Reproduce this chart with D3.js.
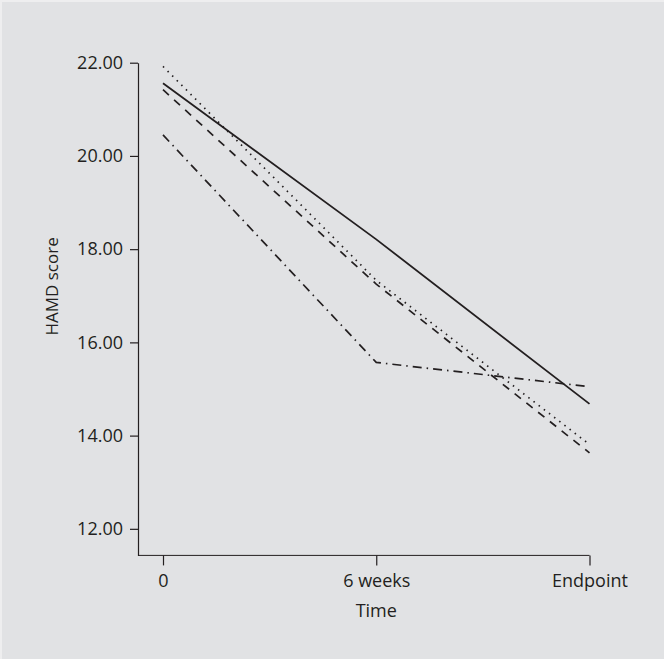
<!DOCTYPE html>
<html>
<head>
<meta charset="utf-8">
<script src="https://cdn.jsdelivr.net/npm/d3@7"></script>
<style>
  html, body { margin: 0; padding: 0; background: #e1e2e4; }
  svg { display: block; }
  text { font-family: "Open Sans", "Noto Sans", sans-serif; fill: #231f20; }
</style>
</head>
<body>
<div id="chart"></div>
<script>
// time points on the x axis
const timepoints = ["0", "6 weeks", "Endpoint"];
const yTicks = [12, 14, 16, 18, 20, 22];

// HAMD score per group
const solidSeries = [21.56, 18.21, 14.68];
const dashedSeries = [21.42, 17.25, 13.63];
const dottedSeries = [21.92, 17.33, 13.81];
const dashDotSeries = [20.45, 15.57, 15.05];

const series = [
  { name: "solid", values: solidSeries, dash: null, width: 1.8 },
  { name: "dashed", values: dashedSeries, dash: "8,7", width: 1.7 },
  { name: "dotted", values: dottedSeries, dash: "1.5,5", width: 1.7 },
  { name: "dashdot", values: dashDotSeries, dash: "9,5,1.5,5", width: 1.7 },
];

const width = 664, height = 659;
const svg = d3.select("#chart").append("svg")
  .attr("width", width)
  .attr("height", height);

svg.append("rect")
  .attr("width", width).attr("height", height)
  .attr("fill", "#e1e2e4");
// thin lighter frame at top and left
svg.append("rect").attr("width", width).attr("height", 2).attr("fill", "#eeeeef");
svg.append("rect").attr("width", 2).attr("height", height).attr("fill", "#eeeeef");

const axisX = 138;     // y axis position
const axisY = 555.4;   // x axis position

const x = d3.scalePoint()
  .domain(timepoints)
  .range([163, 589.5]);

const y = d3.scaleLinear()
  .domain([11.43, 22])
  .range([axisY, 62.7]);

// y axis
const gy = svg.append("g")
  .attr("transform", `translate(${axisX},0)`)
  .call(d3.axisLeft(y)
    .tickValues(yTicks)
    .tickFormat(d3.format(".2f"))
    .tickSize(8)
    .tickSizeOuter(0)
    .tickPadding(7));
gy.selectAll("text").style("font-size", "18px").attr("fill", "#231f20");

// x axis
const gx = svg.append("g")
  .attr("transform", `translate(0,${axisY})`)
  .call(d3.axisBottom(x)
    .tickSize(10)
    .tickSizeOuter(0)
    .tickPadding(9));
gx.select(".domain").remove();
gx.selectAll("text").style("font-size", "18px").attr("fill", "#231f20");

svg.append("line")
  .attr("x1", axisX).attr("x2", x("Endpoint"))
  .attr("y1", axisY).attr("y2", axisY)
  .attr("stroke", "#231f20");

svg.selectAll(".tick line, .domain").attr("stroke", "#231f20").attr("stroke-width", 1.2);

// axis titles
svg.append("text")
  .attr("x", x("6 weeks"))
  .attr("y", 617)
  .attr("text-anchor", "middle")
  .style("font-size", "18px")
  .text("Time");

svg.append("text")
  .attr("transform", `translate(58,${y(17.2)}) rotate(-90)`)
  .attr("text-anchor", "middle")
  .style("font-size", "17px")
  .text("HAMD score");

// lines
const line = d3.line()
  .x((d, i) => x(timepoints[i]))
  .y(d => y(d));

svg.selectAll(".series")
  .data(series)
  .join("path")
  .attr("class", "series")
  .attr("d", d => line(d.values))
  .attr("fill", "none")
  .attr("stroke", "#231f20")
  .attr("stroke-width", d => d.width)
  .attr("stroke-dasharray", d => d.dash);
</script>
</body>
</html>
